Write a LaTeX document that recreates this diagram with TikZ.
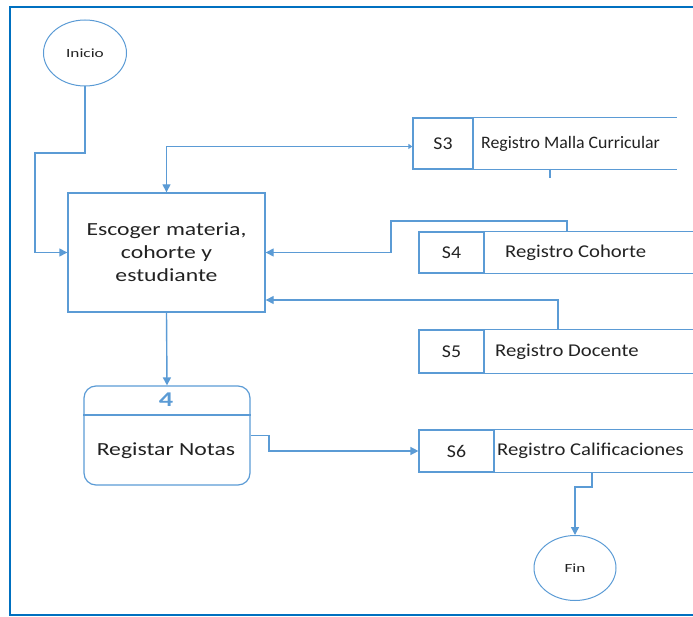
\documentclass[tikz,border=0pt]{standalone}
\usepackage{fontspec}
\setmainfont{Carlito}
% widened faces for the different label kinds
\newfontfamily\procfont[FakeStretch=1.28]{Carlito}
\newfontfamily\storefont[FakeStretch=1.15]{Carlito}
\newfontfamily\mallafont[FakeStretch=1.02]{Carlito}
\newfontfamily\idfont[FakeStretch=1.1]{Carlito}
\newfontfamily\termfont[FakeStretch=1.38]{Carlito}
\newfontfamily\numfont[FakeStretch=1.35]{Carlito}
\usetikzlibrary{arrows.meta,shapes.geometric}
\definecolor{lineblue}{HTML}{5B9BD5}
\definecolor{frameblue}{HTML}{0070C0}
\definecolor{txt}{HTML}{222222}
\tikzset{
  flow/.style={draw=lineblue, line width=1.4pt},
  arr/.style={flow, -{Triangle[length=8pt,width=8pt]}},
  terminal/.style={ellipse, draw=lineblue, line width=1pt, inner sep=0pt, text=txt,
    font=\termfont\fontsize{12.5}{14}\selectfont},
  proc/.style={rectangle, draw=lineblue, line width=1.4pt, inner sep=0pt, text=txt, align=center,
    font=\procfont\fontsize{18.5}{23}\selectfont},
  storeid/.style={rectangle, draw=lineblue, line width=1.2pt, inner sep=0pt, text=txt,
    font=\idfont\fontsize{18}{20}\selectfont},
  storeline/.style={draw=lineblue, line width=1.2pt},
  storetxt/.style={anchor=west, inner sep=0pt, text=txt, font=\storefont\fontsize{18}{20}\selectfont},
}
\begin{document}
\begin{tikzpicture}[x=1pt,y=-1pt]
\useasboundingbox (0,0) rectangle (693,617);
% outer frame (open on the right)
\draw[frameblue, line width=2.2pt] (695,7) -- (10,7) -- (10,615) -- (695,615);

% terminals
\node[terminal, minimum width=83, minimum height=66] (ini) at (85,53) {Inicio};
\node[terminal, minimum width=82, minimum height=65] (fin) at (575,568) {Fin};

% process box
\node[proc, minimum width=197, minimum height=119] (esc) at (166.5,252.5)
  {Escoger materia,\\cohorte y\\estudiante};

% numbered process
\node[rectangle, draw=lineblue, line width=1.2pt, rounded corners=12pt, minimum width=166,
  minimum height=99, inner sep=0pt] (notas) at (167,435.5) {};
\draw[lineblue, line width=1.2pt] (notas.west |- 0,415) -- (notas.east |- 0,415);
\node[text=lineblue, font=\numfont\bfseries\fontsize{21}{23}\selectfont] (num) at (166,400) {4};
\node[text=txt, font=\procfont\fontsize{18.5}{20}\selectfont] (notastxt) at (166,451) {Registar Notas};

% data stores
\node[storeid, minimum width=60, minimum height=51] (s3) at (443,143.5) {S3};
\draw[storeline] (s3.north east) -- ++(203,0) (s3.south east) -- ++(203,0);
\node[storetxt, font=\mallafont\fontsize{17.5}{19}\selectfont] (t3) at (481,143.5) {Registro Malla Curricular};

\node[storeid, minimum width=65, minimum height=41] (s4) at (451.5,252.5) {S4};
\draw[storeline] (s4.north east) -- ++(215,0) (s4.south east) -- ++(215,0);
\node[storetxt] (t4) at (505,252.5) {Registro Cohorte};

\node[storeid, minimum width=65, minimum height=43] (s5) at (451.5,351.5) {S5};
\draw[storeline] (s5.north east) -- ++(215,0) (s5.south east) -- ++(215,0);
\node[storetxt] (t5) at (495,351.5) {Registro Docente};

\node[storeid, minimum width=75, minimum height=42] (s6) at (456.5,451) {S6};
\draw[storeline] (s6.north east) -- ++(205,0) (s6.south east) -- ++(205,0);
\node[storetxt] (t6) at (497,451) {Registro Calificaciones};

% connector anchor points
\coordinate (s3tick) at (550,169);
\coordinate (s4top) at (567,232);
\coordinate (s5top) at (558,330);
\coordinate (s6bot) at (592,472);
\coordinate (rowS5) at (0,300);

% connectors
\draw[arr] (ini.south) |- (35,153) |- (esc.west);
\draw[flow, {Triangle[length=4pt,width=5pt]}-{Triangle[length=8pt,width=8pt]}]
  ([yshift=-3pt]s3.west) -| (esc.north);
\draw[flow] (s3tick) -- ++(0,9);
\draw[arr] (s4top) |- (391,221) |- (esc.east);
\draw[arr] (s5top) |- (esc.east |- rowS5);
\draw[arr] (esc.south) -- (notas.north);
\draw[arr] (notas.east) -- (269,435.5) |- (s6.west);
\draw[arr] (s6bot) -- ++(0,15) -| (fin.north);
\end{tikzpicture}
\end{document}
